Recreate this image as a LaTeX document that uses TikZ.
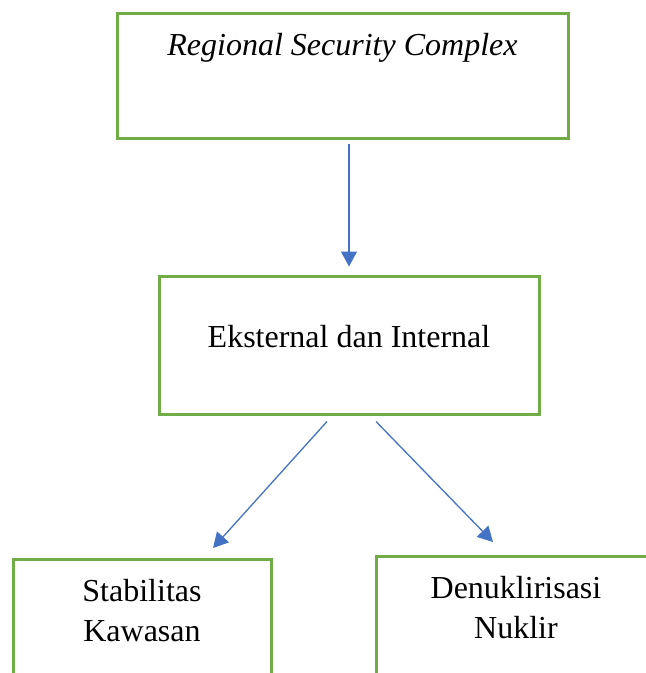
\documentclass[tikz,border=0pt]{standalone}
\usepackage{fontspec}
\setmainfont{Liberation Serif}
\usetikzlibrary{arrows.meta}
\definecolor{boxgreen}{HTML}{70AD47}
\definecolor{arrblue}{HTML}{4472C4}

\begin{document}
\begin{tikzpicture}[x=1pt,y=-1pt,
  box/.style={draw=boxgreen,line width=3pt,inner sep=0pt,align=center,
    font=\fontsize{32}{40}\selectfont},
  arr/.style={draw=arrblue,line width=1.3pt,-{Triangle[length=15pt,width=16pt]}}]
  \useasboundingbox (0,0) rectangle (646,673);
  \clip (0,0) rectangle (646,673);
  %\draw (0,0) rectangle (646,673);
  \node[box,minimum width=451,minimum height=125,text height=22pt,text depth=63pt]
    (rsc) at (342.5,75.5) {\itshape Regional Security Complex};
  \node[box,minimum width=380,minimum height=138,text height=22pt,text depth=18pt]
    (ext) at (349,345) {Eksternal dan Internal};
  \node[box,anchor=north,minimum width=258,text height=82pt,text depth=100pt]
    (stab) at (142,558) {Stabilitas\\Kawasan};
  \node[box,anchor=north,minimum width=280,text height=82pt,text depth=100pt]
    (denuk) at (516,555) {Denuklirisasi\\Nuklir};
  \draw[arr,shorten <=4pt,shorten >=8pt] (rsc.south -| ext.north) -- (ext.north);
  \draw[arr] ([xshift=-22pt,yshift=-6pt]ext.south) -- ([xshift=71pt,yshift=10pt]stab.north);
  \draw[arr] ([xshift=27pt,yshift=-6pt]ext.south) -- ([xshift=-23pt,yshift=13pt]denuk.north);
\end{tikzpicture}
\end{document}
